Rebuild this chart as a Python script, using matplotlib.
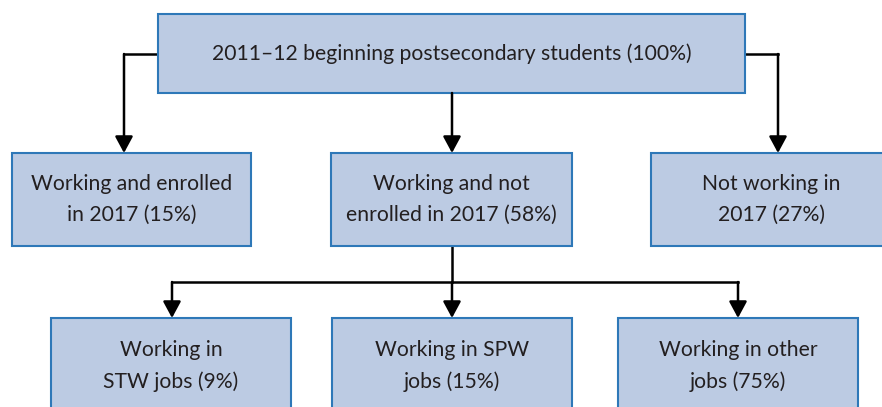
import matplotlib.pyplot as plt
from matplotlib.patches import Rectangle

# box texts
top_label = "2011\u201312 beginning postsecondary students (100%)"
mid_labels = ["Working and enrolled\nin 2017 (15%)",
              "Working and not\nenrolled in 2017 (58%)",
              "Not working in\n2017 (27%)"]
low_labels = ["Working in\nSTW jobs (9%)",
              "Working in SPW\njobs (15%)",
              "Working in other\njobs (75%)"]

# layout in pixels (x0, x1), rows (y0, y1)
top_box = (158, 745)
mid_boxes = [(12, 251), (331, 572), (651, 891)]
low_boxes = [(51, 291), (332, 572), (618, 858)]
top_row = (14, 93)
mid_row = (153, 246)
low_row = (318, 430)

fill = "#bccbe3"
edge = "#2e78b8"
txt = "#231f20"

fig = plt.figure(figsize=(8.82, 4.07), dpi=100)
ax = fig.add_axes([0, 0, 1, 1])
ax.set_xlim(0, 882)
ax.set_ylim(407, 0)
ax.axis("off")


def box(x, y, label, text_y=None):
    ax.add_patch(Rectangle((x[0], y[0]), x[1] - x[0], y[1] - y[0],
                           facecolor=fill, edgecolor=edge, lw=1.5, zorder=2))
    if text_y is None:
        text_y = (y[0] + y[1]) / 2
    ax.text((x[0] + x[1]) / 2, text_y, label, ha="center", va="center",
            fontsize=15.2, family="Lato", color=txt, linespacing=1.66, zorder=3)


def arrow(x, y0, y1):
    ax.annotate("", xy=(x, y1), xytext=(x, y0),
                arrowprops=dict(arrowstyle="-|>,head_length=0.5,head_width=0.27",
                                color="black", lw=1.8, mutation_scale=20,
                                shrinkA=0, shrinkB=0), zorder=4)


box(top_box, top_row, top_label)
for xb, lab in zip(mid_boxes, mid_labels):
    box(xb, mid_row, lab)
for xb, lab in zip(low_boxes, low_labels):
    box(xb, low_row, lab, text_y=366)

# connectors from top box
ax.plot([158, 124], [54, 54], color="black", lw=1.8, zorder=1)
arrow(124, 54, 153)
arrow(452, 93, 153)
ax.plot([745, 778], [54, 54], color="black", lw=1.8, zorder=1)
arrow(778, 54, 153)

# connectors from middle box
ax.plot([452, 452], [246, 282], color="black", lw=1.8, zorder=1)
ax.plot([172, 738], [282, 282], color="black", lw=1.8, zorder=1)
for xa in [172, 452, 738]:
    arrow(xa, 282, 318)

fig.savefig("out.png", dpi=100)
